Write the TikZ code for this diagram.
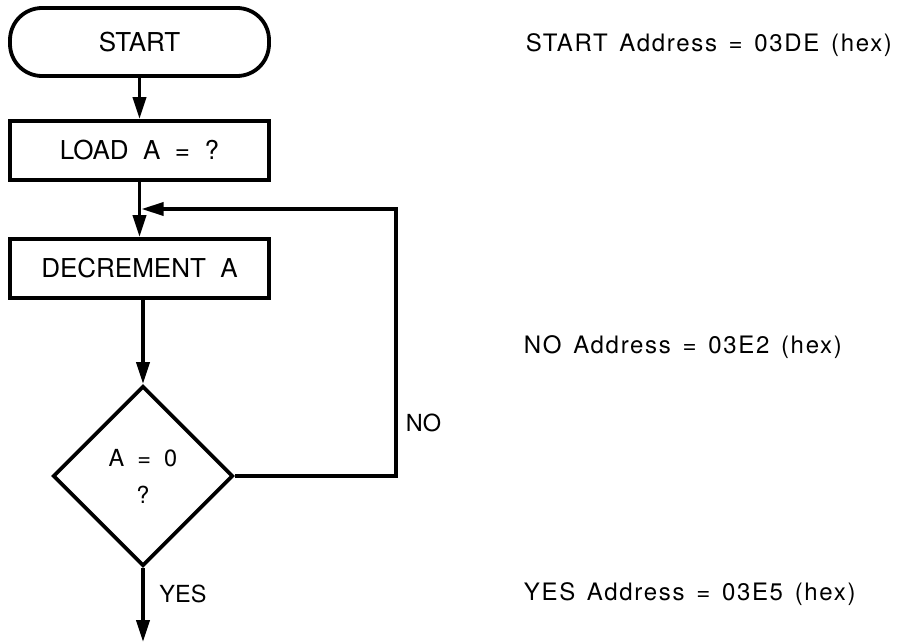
\documentclass[tikz,border=0pt]{standalone}
\usepackage{fontspec}
\setmainfont[WordSpace=2]{TeX Gyre Heros}
\newfontfamily\addrfont[LetterSpace=7,WordSpace=1.4]{TeX Gyre Heros}
\usetikzlibrary{shapes.geometric,arrows.meta}
\begin{document}
\begin{tikzpicture}[x=1pt,y=-1pt,
  line width=3.8pt,
  arr/.style={-{Triangle[length=22pt,width=13pt]}},
  boxfont/.style={font=\fontsize{26}{30}\selectfont},
  lblfont/.style={font=\fontsize{23.5}{37}\selectfont},
  stepbox/.style={draw, rectangle, minimum width=259pt, minimum height=59pt, inner sep=0pt, boxfont},
  termbox/.style={stepbox, rounded corners=32pt, minimum height=68pt},
  decbox/.style={draw, diamond, minimum width=180pt, minimum height=180pt, inner sep=0pt, align=center, lblfont},
  lbl/.style={inner sep=0pt, lblfont},
  addr/.style={inner sep=0pt, anchor=base west, font=\addrfont\fontsize{24}{28}\selectfont}
]
\useasboundingbox (0,0) rectangle (910,642);
\node[termbox] (start) at (139.5,42) {START};
\node[stepbox] (load) at (139.5,150.5) {LOAD A = ?};
\node[stepbox] (decr) at (139.5,268.5) {DECREMENT A};
\node[decbox] (test) at (143,476) {A = 0\\?};
\coordinate (j) at (139.5,209);
\coordinate (corner) at (396,209);
\coordinate (yesend) at (143,642);
\draw[arr] (start) -- (load);
\draw (load) -- (j);
\draw[arr] (j) -- (decr);
\draw[arr] (decr.south -| test.north) -- (test.north);
\draw[arr, line width=3.3pt, shorten >=2pt] (test.east) -- (test.east -| corner) -- (corner) -- (j);
\draw[arr] (test.south) -- (yesend);
\node[lbl] (no) at (423.5,423) {NO};
\node[lbl] (yes) at (183,594) {YES};
\node[addr] (a1) at (524,52) {START Address = 03DE (hex)};
\node[addr] (a2) at (522,353) {NO Address = 03E2 (hex)};
\node[addr] (a3) at (522,600) {YES Address = 03E5 (hex)};
\end{tikzpicture}
\end{document}
